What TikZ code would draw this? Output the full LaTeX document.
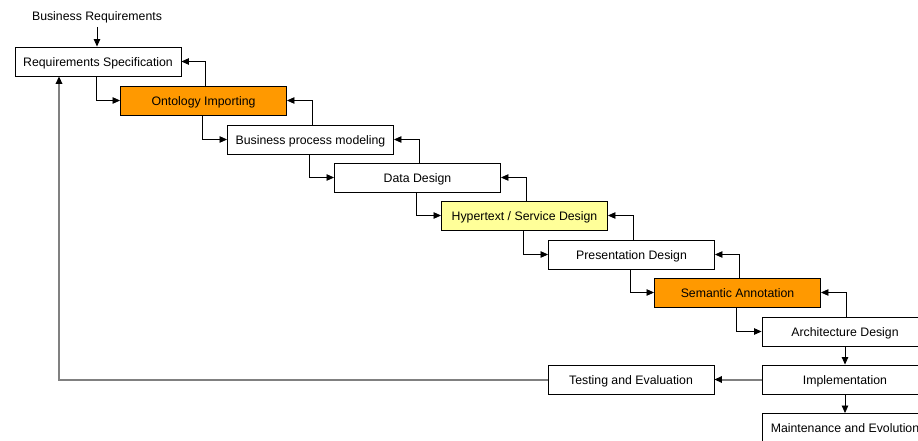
\documentclass[tikz,border=0pt]{standalone}
\usepackage{fontspec}
\setmainfont{Liberation Sans}
\usetikzlibrary{arrows.meta}
\definecolor{orangebox}{HTML}{FF9900}
\definecolor{yellowbox}{HTML}{FFFF99}
\definecolor{greyline}{HTML}{808080}
\begin{document}
\begin{tikzpicture}[x=1pt,y=-1pt,
  stage/.style={draw=black,line width=0.9pt,minimum width=166pt,minimum height=29pt,inner sep=0pt,text height=10pt,text depth=0.2pt,font=\fontsize{12.3}{14}\selectfont,fill=white},
  orangestage/.style={stage,fill=orangebox},
  yellowstage/.style={stage,fill=yellowbox},
  conn/.style={line width=0.8pt,-{Triangle[length=7.5pt,width=6.5pt]}},
  greyconn/.style={line width=2pt,draw=greyline,-{Triangle[length=7.5pt,width=6.5pt,color=black]}}]
\useasboundingbox (0,0) rectangle (918,441);
\node[font=\fontsize{12.3}{14}\selectfont] (br) at (97,17.5) {Business Requirements};
\node[stage] (rs) at (98,61.5) {Requirements Specification};
\node[orangestage] (oi) at (203.5,100.5) {Ontology Importing};
\node[stage] (bp) at (310.5,139.5) {Business process modeling};
\node[stage] (dd) at (417.5,177.5) {Data Design};
\node[yellowstage] (hs) at (524.5,215.5) {Hypertext / Service Design};
\node[stage] (pd) at (631.5,254.5) {Presentation Design};
\node[orangestage] (sa) at (737.5,292.5) {Semantic Annotation};
\node[stage] (ad) at (845,331.5) {Architecture Design};
\node[stage] (im) at (845,379.5) {Implementation};
\node[stage] (te) at (631,379.5) {Testing and Evaluation};
\node[stage] (me) at (845,428) {Maintenance and Evolution};
\coordinate (corner) at (59,379.5);
% top input
\draw[conn] (br.south) -- (br.south |- rs.north);
% forward and feedback
\foreach \a/\b in {rs/oi,oi/bp,bp/dd,dd/hs,hs/pd,pd/sa,sa/ad}{
  \draw[conn] ([xshift=-1.5pt]\a.south) |- (\b.west);
  \draw[conn] ([xshift=1.5pt]\b.north) |- (\a.east);
}
\draw[conn] (ad.south) -- (im.north);
\draw[conn] (im.south) -- (me.north);
\draw[greyconn] (im.west) -- (te.east);
\draw[greyconn] (te.west) -- (corner) -- (corner |- rs.south);
\end{tikzpicture}
\end{document}
